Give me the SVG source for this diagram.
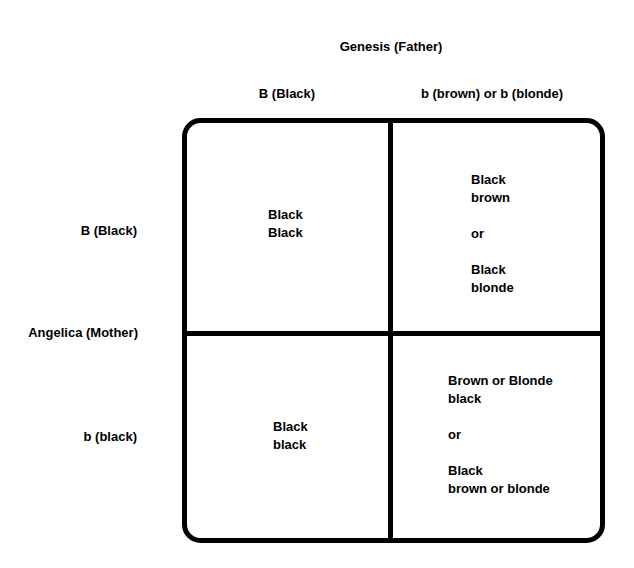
<svg xmlns="http://www.w3.org/2000/svg" width="634" height="568" viewBox="0 0 634 568">
<style>
  text { font-family: "Liberation Sans", Arial, sans-serif; font-weight: bold; font-size: 13px; fill: #000; }
  .grid { fill: none; stroke: #000; stroke-width: 5; }
  .c { text-anchor: middle; }
  .r { text-anchor: end; }
</style>
<rect width="634" height="568" fill="#fff"/>
<g id="father">
  <text class="c" x="391" y="51">Genesis (Father)</text>
  <text class="c" x="287" y="98">B (Black)</text>
  <text class="c" x="492" y="98">b (brown) or b (blonde)</text>
</g>
<g id="mother">
  <text class="r" x="137" y="235">B (Black)</text>
  <text class="r" x="138" y="337">Angelica (Mother)</text>
  <text class="r" x="137" y="441">b (black)</text>
</g>
<g id="grid">
  <rect class="grid" x="184.5" y="120.5" width="418" height="420" rx="16" ry="16"/>
  <line class="grid" x1="390.5" y1="120.5" x2="390.5" y2="540.5"/>
  <line class="grid" x1="184.5" y1="333.5" x2="602.5" y2="333.5"/>
</g>
<g id="cell-BB">
  <text x="268" y="219">Black</text>
  <text x="268" y="237">Black</text>
</g>
<g id="cell-Bb-top">
  <text x="471" y="184">Black</text>
  <text x="471" y="202">brown</text>
  <text x="471" y="238">or</text>
  <text x="471" y="274">Black</text>
  <text x="471" y="292">blonde</text>
</g>
<g id="cell-bB">
  <text x="273" y="431">Black</text>
  <text x="273" y="449">black</text>
</g>
<g id="cell-bb">
  <text x="448" y="385">Brown or Blonde</text>
  <text x="448" y="403">black</text>
  <text x="448" y="439">or</text>
  <text x="448" y="475">Black</text>
  <text x="448" y="493">brown or blonde</text>
</g>
</svg>
